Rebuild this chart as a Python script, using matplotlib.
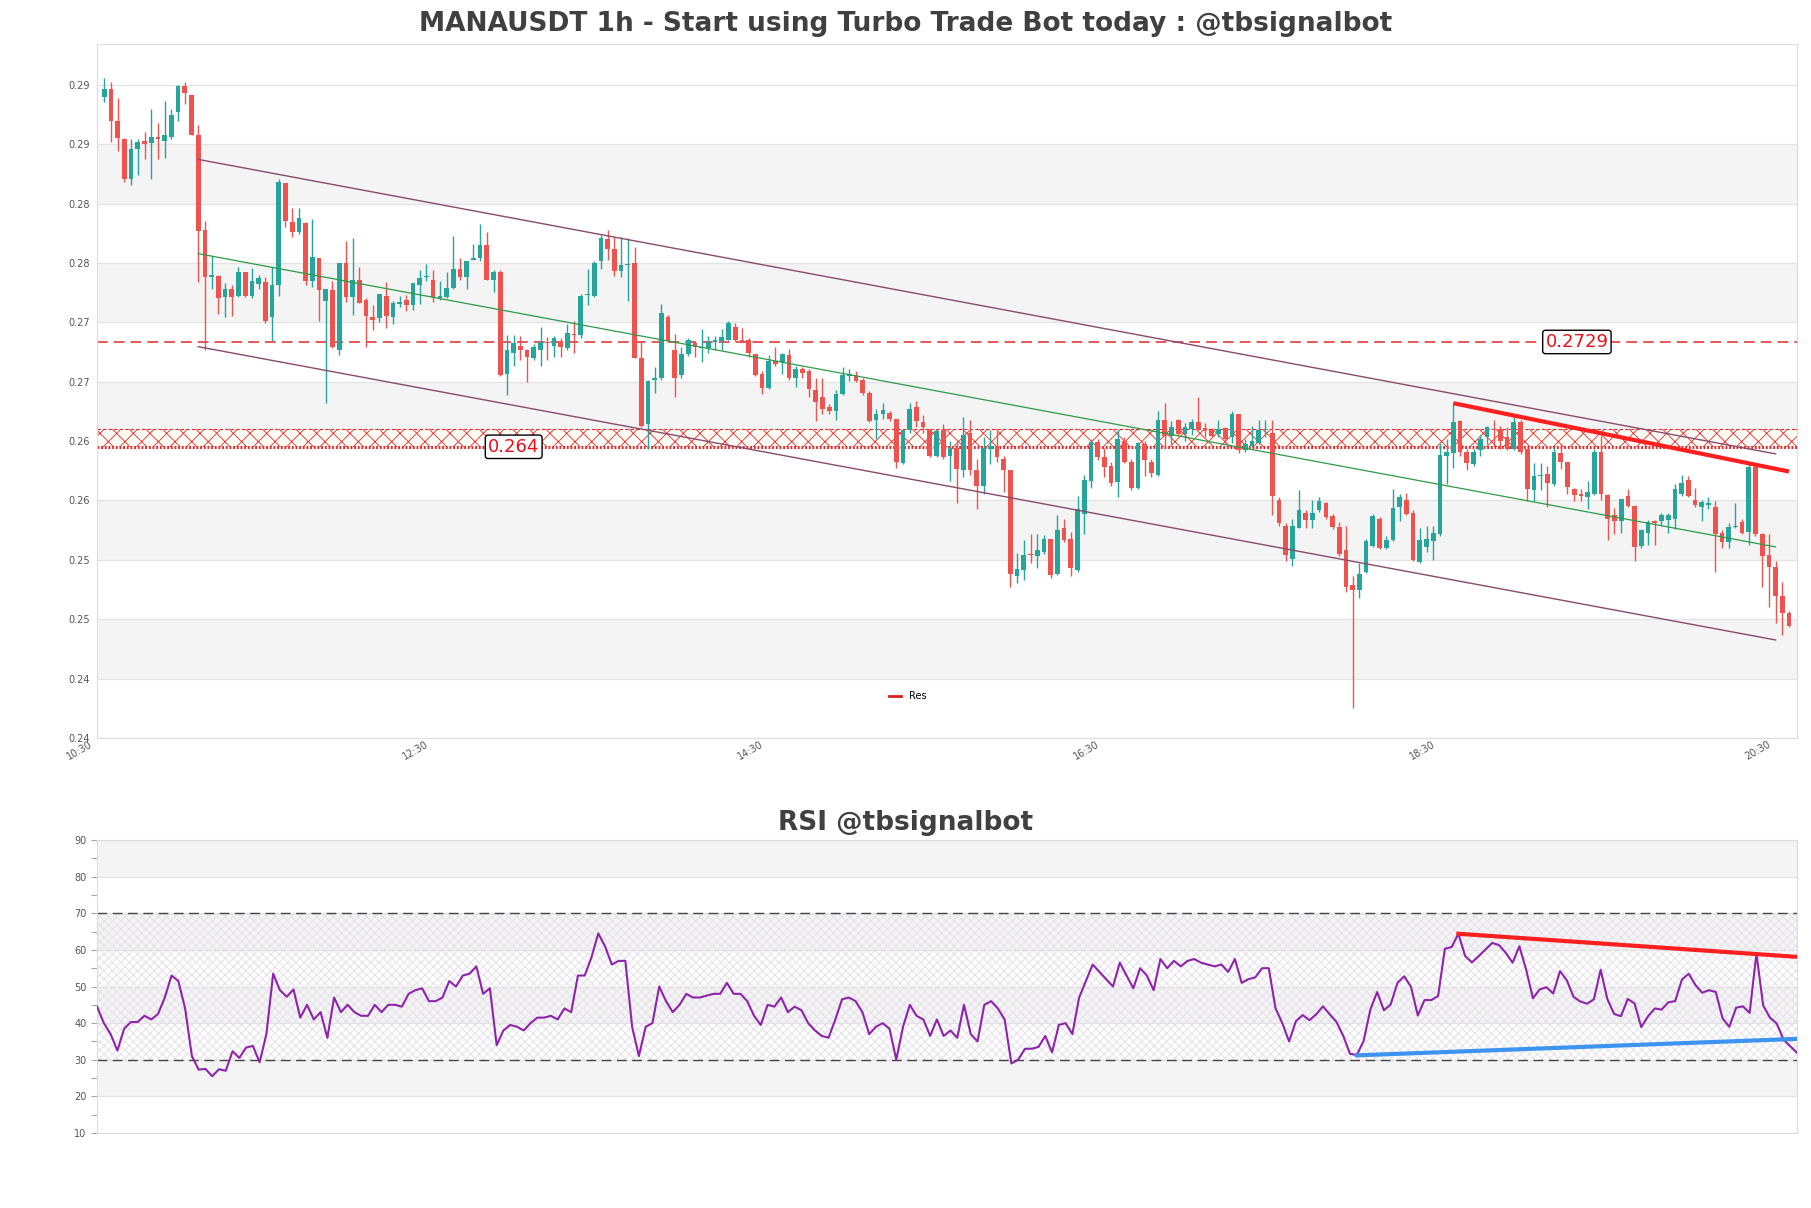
import numpy as np
import matplotlib
matplotlib.use("Agg")
import matplotlib.pyplot as plt
import matplotlib.transforms as mtransforms
from matplotlib.lines import Line2D

plt.rcParams['hatch.linewidth'] = 0.6

# ---- data (1h candles, index 0..251) ----
opens = [0.2937, 0.2944, 0.2917, 0.2901, 0.2867, 0.2893, 0.2900, 0.2898, 0.2903, 0.2900,
         0.2903, 0.2924, 0.2946, 0.2939, 0.2905, 0.2824, 0.2784, 0.2785, 0.2767, 0.2774,
         0.2768, 0.2788, 0.2768, 0.2778, 0.2780, 0.2750, 0.2777, 0.2864, 0.2831, 0.2822,
         0.2830, 0.2781, 0.2800, 0.2764, 0.2773, 0.2722, 0.2796, 0.2767, 0.2782, 0.2765,
         0.2750, 0.2749, 0.2768, 0.2750, 0.2761, 0.2765, 0.2760, 0.2777, 0.2784, 0.2782,
         0.2766, 0.2767, 0.2775, 0.2791, 0.2784, 0.2799, 0.2800, 0.2811, 0.2782, 0.2788,
         0.2702, 0.2720, 0.2726, 0.2722, 0.2715, 0.2722, 0.2729, 0.2726, 0.2730, 0.2724,
         0.2736, 0.2735, 0.2769, 0.2768, 0.2798, 0.2816, 0.2808, 0.2789, 0.2794, 0.2796,
         0.2715, 0.2659, 0.2697, 0.2698, 0.2750, 0.2722, 0.2701, 0.2719, 0.2728, 0.2724,
         0.2724, 0.2729, 0.2730, 0.2731, 0.2742, 0.2731, 0.2731, 0.2719, 0.2702, 0.2690,
         0.2713, 0.2712, 0.2718, 0.2698, 0.2706, 0.2704, 0.2688, 0.2682, 0.2674, 0.2670,
         0.2685, 0.2700, 0.2701, 0.2697, 0.2686, 0.2663, 0.2668, 0.2669, 0.2664, 0.2626,
         0.2654, 0.2674, 0.2661, 0.2655, 0.2632, 0.2654, 0.2632, 0.2639, 0.2620, 0.2652,
         0.2620, 0.2607, 0.2638, 0.2641, 0.2630, 0.2620, 0.2530, 0.2535, 0.2549, 0.2547,
         0.2551, 0.2562, 0.2532, 0.2571, 0.2562, 0.2535, 0.2583, 0.2611, 0.2644, 0.2631,
         0.2624, 0.2610, 0.2645, 0.2627, 0.2605, 0.2642, 0.2627, 0.2616, 0.2663, 0.2649,
         0.2663, 0.2651, 0.2655, 0.2661, 0.2656, 0.2654, 0.2651, 0.2656, 0.2648, 0.2668,
         0.2637, 0.2641, 0.2643, 0.2654, 0.2652, 0.2595, 0.2573, 0.2545, 0.2571, 0.2584,
         0.2578, 0.2586, 0.2592, 0.2581, 0.2572, 0.2552, 0.2523, 0.2518, 0.2534, 0.2556,
         0.2579, 0.2554, 0.2561, 0.2589, 0.2595, 0.2584, 0.2542, 0.2555, 0.2560, 0.2566,
         0.2632, 0.2635, 0.2662, 0.2636, 0.2625, 0.2637, 0.2648, 0.2655, 0.2655, 0.2648,
         0.2638, 0.2661, 0.2638, 0.2603, 0.2615, 0.2617, 0.2608, 0.2635, 0.2627, 0.2604,
         0.2600, 0.2597, 0.2600, 0.2636, 0.2599, 0.2582, 0.2577, 0.2598, 0.2590, 0.2556,
         0.2567, 0.2577, 0.2577, 0.2578, 0.2579, 0.2600, 0.2612, 0.2595, 0.2589, 0.2591,
         0.2589, 0.2567, 0.2559, 0.2572, 0.2576, 0.2568, 0.2623, 0.2566, 0.2548, 0.2538,
         0.2513, 0.2499]
highs = [0.2953, 0.2950, 0.2936, 0.2902, 0.2901, 0.2901, 0.2907, 0.2927, 0.2915, 0.2934,
         0.2927, 0.2947, 0.2950, 0.2939, 0.2913, 0.2832, 0.2802, 0.2786, 0.2779, 0.2777,
         0.2793, 0.2788, 0.2792, 0.2786, 0.2784, 0.2793, 0.2867, 0.2864, 0.2843, 0.2843,
         0.2831, 0.2833, 0.2800, 0.2774, 0.2781, 0.2796, 0.2815, 0.2817, 0.2793, 0.2766,
         0.2760, 0.2770, 0.2780, 0.2764, 0.2768, 0.2769, 0.2779, 0.2790, 0.2795, 0.2790,
         0.2781, 0.2788, 0.2819, 0.2800, 0.2798, 0.2812, 0.2829, 0.2822, 0.2790, 0.2790,
         0.2735, 0.2735, 0.2734, 0.2723, 0.2727, 0.2742, 0.2733, 0.2734, 0.2732, 0.2744,
         0.2747, 0.2770, 0.2791, 0.2798, 0.2820, 0.2824, 0.2818, 0.2818, 0.2817, 0.2810,
         0.2730, 0.2697, 0.2708, 0.2761, 0.2752, 0.2736, 0.2725, 0.2732, 0.2730, 0.2740,
         0.2734, 0.2734, 0.2740, 0.2747, 0.2745, 0.2741, 0.2732, 0.2719, 0.2704, 0.2718,
         0.2725, 0.2720, 0.2723, 0.2709, 0.2708, 0.2706, 0.2698, 0.2698, 0.2676, 0.2688,
         0.2708, 0.2706, 0.2704, 0.2698, 0.2687, 0.2672, 0.2677, 0.2670, 0.2664, 0.2655,
         0.2677, 0.2679, 0.2667, 0.2655, 0.2655, 0.2659, 0.2645, 0.2643, 0.2665, 0.2663,
         0.2630, 0.2648, 0.2654, 0.2653, 0.2632, 0.2620, 0.2550, 0.2561, 0.2566, 0.2566,
         0.2565, 0.2562, 0.2582, 0.2579, 0.2568, 0.2598, 0.2616, 0.2647, 0.2647, 0.2639,
         0.2627, 0.2654, 0.2648, 0.2630, 0.2644, 0.2645, 0.2630, 0.2670, 0.2677, 0.2662,
         0.2664, 0.2660, 0.2664, 0.2682, 0.2660, 0.2656, 0.2663, 0.2657, 0.2670, 0.2668,
         0.2647, 0.2658, 0.2663, 0.2663, 0.2663, 0.2597, 0.2575, 0.2579, 0.2603, 0.2586,
         0.2595, 0.2597, 0.2593, 0.2583, 0.2576, 0.2573, 0.2530, 0.2541, 0.2562, 0.2583,
         0.2580, 0.2564, 0.2604, 0.2600, 0.2601, 0.2586, 0.2571, 0.2573, 0.2573, 0.2643,
         0.2647, 0.2677, 0.2663, 0.2638, 0.2638, 0.2650, 0.2658, 0.2663, 0.2658, 0.2657,
         0.2666, 0.2663, 0.2638, 0.2626, 0.2626, 0.2624, 0.2639, 0.2642, 0.2627, 0.2605,
         0.2604, 0.2611, 0.2638, 0.2649, 0.2600, 0.2588, 0.2596, 0.2604, 0.2591, 0.2570,
         0.2578, 0.2578, 0.2584, 0.2584, 0.2608, 0.2616, 0.2615, 0.2605, 0.2595, 0.2597,
         0.2594, 0.2569, 0.2575, 0.2592, 0.2579, 0.2625, 0.2625, 0.2567, 0.2566, 0.2543,
         0.2525, 0.2501]
lows = [0.2933, 0.2899, 0.2891, 0.2865, 0.2862, 0.2871, 0.2884, 0.2867, 0.2884, 0.2885,
        0.2901, 0.2917, 0.2931, 0.2905, 0.2780, 0.2722, 0.2774, 0.2753, 0.2750, 0.2751,
        0.2767, 0.2767, 0.2766, 0.2774, 0.2745, 0.2730, 0.2768, 0.2827, 0.2818, 0.2821,
        0.2777, 0.2776, 0.2747, 0.2677, 0.2724, 0.2718, 0.2763, 0.2752, 0.2762, 0.2725,
        0.2739, 0.2746, 0.2741, 0.2744, 0.2759, 0.2755, 0.2756, 0.2761, 0.2781, 0.2763,
        0.2765, 0.2766, 0.2774, 0.2782, 0.2774, 0.2799, 0.2798, 0.2782, 0.2771, 0.2700,
        0.2684, 0.2709, 0.2714, 0.2695, 0.2714, 0.2709, 0.2714, 0.2716, 0.2716, 0.2722,
        0.2720, 0.2732, 0.2760, 0.2767, 0.2791, 0.2799, 0.2785, 0.2784, 0.2764, 0.2715,
        0.2657, 0.2638, 0.2686, 0.2697, 0.2729, 0.2682, 0.2698, 0.2717, 0.2716, 0.2712,
        0.2720, 0.2722, 0.2722, 0.2731, 0.2730, 0.2729, 0.2716, 0.2700, 0.2685, 0.2689,
        0.2709, 0.2702, 0.2697, 0.2691, 0.2698, 0.2682, 0.2662, 0.2668, 0.2668, 0.2663,
        0.2684, 0.2696, 0.2695, 0.2684, 0.2661, 0.2647, 0.2664, 0.2662, 0.2622, 0.2625,
        0.2652, 0.2657, 0.2652, 0.2631, 0.2631, 0.2630, 0.2611, 0.2592, 0.2614, 0.2616,
        0.2587, 0.2600, 0.2625, 0.2627, 0.2602, 0.2521, 0.2524, 0.2527, 0.2541, 0.2537,
        0.2549, 0.2529, 0.2531, 0.2559, 0.2530, 0.2534, 0.2566, 0.2605, 0.2629, 0.2614,
        0.2607, 0.2597, 0.2626, 0.2603, 0.2604, 0.2615, 0.2614, 0.2615, 0.2639, 0.2642,
        0.2650, 0.2645, 0.2650, 0.2654, 0.2648, 0.2648, 0.2648, 0.2643, 0.2643, 0.2635,
        0.2636, 0.2640, 0.2642, 0.2648, 0.2582, 0.2573, 0.2543, 0.2539, 0.2571, 0.2571,
        0.2571, 0.2585, 0.2579, 0.2570, 0.2547, 0.2517, 0.2418, 0.2512, 0.2533, 0.2555,
        0.2553, 0.2553, 0.2560, 0.2577, 0.2582, 0.2543, 0.2541, 0.2551, 0.2544, 0.2564,
        0.2608, 0.2622, 0.2632, 0.2620, 0.2624, 0.2632, 0.2642, 0.2641, 0.2638, 0.2637,
        0.2637, 0.2634, 0.2594, 0.2594, 0.2603, 0.2589, 0.2607, 0.2621, 0.2600, 0.2594,
        0.2594, 0.2587, 0.2599, 0.2595, 0.2561, 0.2566, 0.2567, 0.2589, 0.2543, 0.2554,
        0.2557, 0.2557, 0.2573, 0.2567, 0.2570, 0.2598, 0.2597, 0.2589, 0.2577, 0.2587,
        0.2534, 0.2554, 0.2554, 0.2571, 0.2566, 0.2557, 0.2564, 0.2521, 0.2504, 0.2490,
        0.2480, 0.2487]
closes = [0.2944, 0.2917, 0.2902, 0.2867, 0.2893, 0.2899, 0.2897, 0.2903, 0.2901, 0.2905,
          0.2922, 0.2946, 0.2940, 0.2905, 0.2823, 0.2784, 0.2786, 0.2766, 0.2774, 0.2767,
          0.2788, 0.2768, 0.2781, 0.2783, 0.2747, 0.2777, 0.2865, 0.2832, 0.2822, 0.2834,
          0.2781, 0.2801, 0.2773, 0.2774, 0.2725, 0.2796, 0.2767, 0.2782, 0.2762, 0.2751,
          0.2748, 0.2770, 0.2751, 0.2762, 0.2763, 0.2760, 0.2779, 0.2783, 0.2785, 0.2767,
          0.2768, 0.2775, 0.2791, 0.2784, 0.2798, 0.2800, 0.2811, 0.2782, 0.2788, 0.2701,
          0.2722, 0.2728, 0.2722, 0.2716, 0.2725, 0.2729, 0.2728, 0.2732, 0.2725, 0.2737,
          0.2735, 0.2768, 0.2770, 0.2796, 0.2817, 0.2808, 0.2789, 0.2794, 0.2795, 0.2715,
          0.2658, 0.2696, 0.2698, 0.2754, 0.2730, 0.2698, 0.2719, 0.2731, 0.2725, 0.2725,
          0.2729, 0.2731, 0.2733, 0.2745, 0.2731, 0.2730, 0.2720, 0.2701, 0.2690, 0.2713,
          0.2710, 0.2719, 0.2698, 0.2706, 0.2703, 0.2689, 0.2678, 0.2672, 0.2670, 0.2685,
          0.2701, 0.2702, 0.2696, 0.2686, 0.2662, 0.2668, 0.2671, 0.2664, 0.2627, 0.2654,
          0.2672, 0.2662, 0.2657, 0.2632, 0.2653, 0.2631, 0.2639, 0.2621, 0.2650, 0.2620,
          0.2607, 0.2639, 0.2641, 0.2631, 0.2620, 0.2532, 0.2536, 0.2548, 0.2548, 0.2552,
          0.2562, 0.2531, 0.2569, 0.2561, 0.2537, 0.2587, 0.2612, 0.2644, 0.2631, 0.2623,
          0.2609, 0.2647, 0.2627, 0.2605, 0.2643, 0.2629, 0.2618, 0.2663, 0.2649, 0.2657,
          0.2651, 0.2657, 0.2661, 0.2655, 0.2653, 0.2649, 0.2655, 0.2647, 0.2668, 0.2637,
          0.2642, 0.2645, 0.2654, 0.2655, 0.2598, 0.2575, 0.2548, 0.2573, 0.2586, 0.2578,
          0.2584, 0.2594, 0.2580, 0.2572, 0.2549, 0.2521, 0.2518, 0.2532, 0.2560, 0.2581,
          0.2554, 0.2561, 0.2588, 0.2597, 0.2583, 0.2544, 0.2561, 0.2562, 0.2567, 0.2633,
          0.2636, 0.2661, 0.2636, 0.2626, 0.2636, 0.2647, 0.2657, 0.2654, 0.2645, 0.2638,
          0.2661, 0.2636, 0.2604, 0.2615, 0.2616, 0.2609, 0.2636, 0.2627, 0.2606, 0.2599,
          0.2598, 0.2602, 0.2636, 0.2600, 0.2579, 0.2577, 0.2596, 0.2590, 0.2555, 0.2569,
          0.2576, 0.2575, 0.2582, 0.2582, 0.2604, 0.2609, 0.2598, 0.2591, 0.2593, 0.2592,
          0.2566, 0.2559, 0.2572, 0.2573, 0.2567, 0.2623, 0.2566, 0.2547, 0.2538, 0.2513,
          0.2499, 0.2488]

rsi = [44.5, 40, 37, 32.5, 38.5, 40.3, 40.3, 42, 41, 42.5,
       47, 53, 51.5, 44, 31, 27.3, 27.5, 25.5, 27.4, 27,
       32.3, 30.5, 33.3, 33.8, 29.3, 37, 53.5, 49, 47.2, 49.2,
       41.5, 45, 41, 43, 36, 47, 43, 45, 43, 42,
       42, 45, 43, 45, 45, 44.5, 48, 49, 49.5, 46,
       46, 47, 51.5, 50, 53, 53.5, 55.5, 48, 49.5, 34,
       38, 39.5, 39, 38, 40, 41.5, 41.5, 42, 41, 44,
       43, 53, 53, 58, 64.5, 61, 56, 57, 57, 39,
       31, 39, 40, 50, 46, 43, 45, 48, 47, 47,
       47.5, 48, 48, 51, 48, 48, 46, 42, 39.5, 45,
       44.5, 47, 43, 44.5, 43.5, 40, 38, 36.5, 36, 41,
       46.5, 47, 46, 43, 37, 39, 40, 38.5, 30, 39,
       45, 42, 41, 36.5, 41, 36.5, 38, 36, 45, 37,
       35, 45, 46, 44, 41, 29, 30, 33, 33, 33.5,
       36.5, 32, 39.5, 40, 37, 47, 51.5, 56, 54, 52,
       50, 56.5, 53, 49.5, 55, 53, 49, 57.5, 55, 57,
       55.5, 57, 57.5, 56.5, 56, 55.5, 56, 54, 57.5, 51,
       52, 52.5, 55, 55, 44, 40, 35, 40.5, 42.2, 40.8,
       42.4, 44.6, 42.4, 40.3, 36.5, 31.6, 31.3, 35.1, 43.7, 48.5,
       43.5, 45.1, 51, 52.8, 49.9, 42.1, 46.3, 46.3, 47.4, 60.3,
       60.8, 64.4, 58.3, 56.6, 58.3, 60.1, 61.9, 61.3, 59.2, 56.5,
       61, 54.6, 46.8, 49.2, 49.8, 48.1, 54.2, 51.7, 47.2, 45.9,
       45.3, 46.5, 54.6, 46.5, 42.5, 41.9, 46.6, 45.4, 38.9, 41.9,
       44, 43.7, 45.7, 46, 51.9, 53.5, 50.4, 48.3, 49, 48.5,
       41.3, 39, 44.2, 44.6, 42.8, 59, 44.8, 41.5, 39.9, 35.5,
       33.7, 31.9]

x_tick_pos = [0, 50, 100, 150, 200, 250]
x_tick_labels = ["10:30", "12:30", "14:30", "16:30", "18:30", "20:30"]
y_ticks = [0.2393, 0.2443, 0.2494, 0.2544, 0.2595, 0.2645,
           0.2695, 0.2746, 0.2796, 0.2846, 0.2897, 0.2947]

res_level = 0.2729
sup_level = 0.2640
sup_zone_top = 0.2655

chan_x = [14, 249]
chan_upper = [0.2884, 0.2634]
chan_mid = [0.2804, 0.2555]
chan_lower = [0.2725, 0.2476]

res_x = [201, 251]
res_y = [0.2677, 0.2619]

rsi_res_x = [201, 251]
rsi_res_y = [64.4, 58.1]
rsi_sup_x = [186, 251]
rsi_sup_y = [31.2, 35.7]

# ---- figure ----
GREEN = '#26a69a'
RED = '#ef5350'
GRID = '#e3e3e3'
BAND = '#f4f4f4'
TXT = '#555555'

fig = plt.figure(figsize=(18.11, 12.08), dpi=100)
ax = fig.add_axes([0.0536, 0.3893, 0.9387, 0.5743])
ax2 = fig.add_axes([0.0536, 0.0621, 0.9387, 0.2425])

n = len(closes)
idx = np.arange(n)
o = np.array(opens); h = np.array(highs); l = np.array(lows); c = np.array(closes)
up = c >= o
cols = np.where(up, GREEN, RED)

# background bands and grid
for k in range(1, 11, 2):
    ax.axhspan(y_ticks[k], y_ticks[k + 1], color=BAND, zorder=0, lw=0)
for t in y_ticks:
    ax.axhline(t, color=GRID, lw=0.9, zorder=0.5)

# support zone
ax.fill_between([-2, n + 2], sup_level, sup_zone_top, facecolor='#fffdf5',
                edgecolor='#e8262a', hatch='xx', lw=0, zorder=1)
ax.axhline(sup_zone_top, color='#e8262a', lw=0.8, ls=(0, (3, 2)), zorder=1.1)
ax.axhline(sup_level, color='#e8262a', lw=2.2, ls=(0, (0.6, 0.6)), zorder=1.2)
ax.axhline(res_level, color='#e0282a', lw=1.1, ls=(0, (7, 4)), zorder=1.2)

# candles
ax.vlines(idx, l, h, colors=cols, lw=1, zorder=2)
body = np.maximum(np.abs(c - o), 0.00008)
ax.bar(idx, body, bottom=np.minimum(o, c), width=0.7, color=cols, lw=0, zorder=3)

# channel
ax.plot(chan_x, chan_upper, color='#8a4a6a', lw=1, zorder=4)
ax.plot(chan_x, chan_lower, color='#8a4a6a', lw=1, zorder=4)
ax.plot(chan_x, chan_mid, color='#2e9a48', lw=0.9, zorder=4)
ax.plot(res_x, res_y, color='#ff1f1f', lw=3, zorder=5, solid_capstyle='butt')

box = dict(boxstyle='round,pad=0.15', fc='white', ec='black', lw=1)
ax.text(61, sup_level, '0.264', color='#e8101a', fontsize=13, ha='center',
        va='center', bbox=box, zorder=6)
ax.text(219.4, res_level, '0.2729', color='#e8101a', fontsize=13, ha='center',
        va='center', bbox=box, zorder=6)

ax.legend(handles=[Line2D([], [], color='#d62020', lw=2)], labels=['Res'],
          loc='center', bbox_to_anchor=(0.477, 0.06), frameon=False,
          fontsize=7, handlelength=1.2)

ax.set_xlim(-1.07, 252.2)
ax.set_ylim(0.2393, 0.2982)
ax.set_yticks(y_ticks)
ax.set_yticklabels(['%.2f' % t for t in y_ticks])
ax.set_xticks(x_tick_pos)
ax.set_xticklabels(x_tick_labels, rotation=30, ha='right')
ax.tick_params(length=0, labelsize=7, colors=TXT, pad=5)
shift = mtransforms.ScaledTranslation(-0.10, 0.055, fig.dpi_scale_trans)
for lab in ax.get_xticklabels():
    lab.set_transform(lab.get_transform() + shift)
for s in ax.spines.values():
    s.set_color('#dddddd')

# ---- RSI panel ----
for lo in (20, 40, 60, 80):
    ax2.axhspan(lo, lo + 10, color=BAND, zorder=0, lw=0)
for t in range(10, 91, 10):
    ax2.axhline(t, color=GRID, lw=0.9, zorder=0.5)
ax2.fill_between([0, n - 1], 30, 70, facecolor='none', edgecolor='#e2dde8',
                 hatch='xxxx', lw=0, zorder=1)
ax2.axhline(30, color='#444444', lw=1, ls=(0, (7, 4)), zorder=2)
ax2.axhline(70, color='#444444', lw=1, ls=(0, (7, 4)), zorder=2)
ax2.plot(idx, rsi, color='#8e24aa', lw=1.5, zorder=3)
ax2.plot(rsi_res_x, rsi_res_y, color='#ff1f1f', lw=3, zorder=4)
ax2.plot(rsi_sup_x, rsi_sup_y, color='#3d94f0', lw=3, zorder=4)

ax2.set_xlim(0, n - 1)
ax2.set_ylim(10, 90)
ax2.set_yticks(range(10, 91, 10))
ax2.set_yticks(range(15, 90, 10), minor=True)
ax2.set_xticks([])
ax2.tick_params(axis='y', which='both', labelsize=7, colors='#aaaaaa',
                labelcolor=TXT, length=4, width=0.8)
for s in ax2.spines.values():
    s.set_color('#dddddd')

fig.text(0.5, 0.980, 'MANAUSDT 1h - Start using Turbo Trade Bot today : @tbsignalbot',
         ha='center', va='center', fontsize=19, fontweight='bold', color='#404040')
fig.text(0.5, 0.319, 'RSI @tbsignalbot', ha='center', va='center',
         fontsize=19, fontweight='bold', color='#404040')

fig.savefig('out.png', dpi=100)
